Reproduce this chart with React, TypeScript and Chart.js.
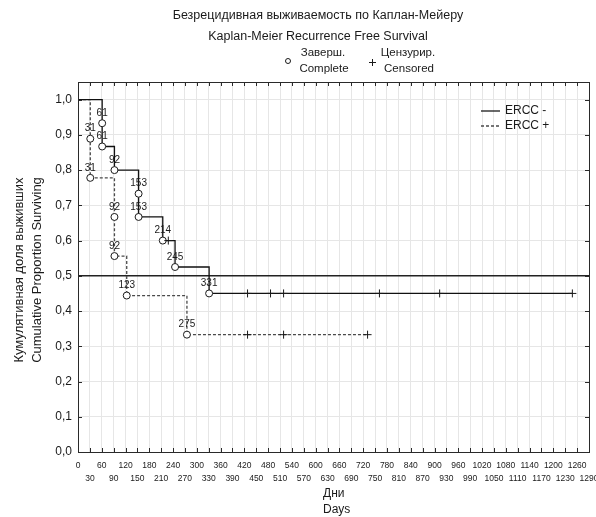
import { useEffect, useRef } from 'react';
import { Chart, registerables } from 'chart.js';

Chart.register(...registerables);

const FONT = '"Liberation Sans", Arial, sans-serif';
const TEXT = '#1a1a1a';

const title1 = 'Безрецидивная выживаемость по Каплан-Мейеру';
const title2 = 'Kaplan-Meier Recurrence Free Survival';
const legendComplete = ['Заверш.', 'Complete'];
const legendCensored = ['Цензурир.', 'Censored'];
const yTitle = ['Кумулятивная доля выживших', 'Cumulative Proportion Surviving'];
const xTitle = ['Дни', 'Days'];
const seriesNames = ['ERCC -', 'ERCC +'];

// ERCC - (solid): days, survival, marker (s = start, e = event, c = censored)
const ercMinusDays = [0, 61, 61, 92, 153, 153, 214, 228, 245, 331, 428, 486, 519, 761, 913, 1248];
const ercMinusSurv = [1, 0.933, 0.867, 0.8, 0.733, 0.667, 0.6, 0.6, 0.525, 0.45, 0.45, 0.45, 0.45, 0.45, 0.45, 0.45];
const ercMinusMark = ['s', 'e', 'e', 'e', 'e', 'e', 'e', 'c', 'e', 'e', 'c', 'c', 'c', 'c', 'c', 'c'];

// ERCC + (dashed)
const ercPlusDays = [0, 31, 31, 92, 92, 123, 275, 428, 519, 731];
const ercPlusSurv = [1, 0.889, 0.778, 0.667, 0.556, 0.444, 0.333, 0.333, 0.333, 0.333];
const ercPlusMark = ['s', 'e', 'e', 'e', 'e', 'e', 'e', 'c', 'c', 'c'];

// median reference line
const medianDays = [0, 1290];
const medianSurv = [0.5, 0.5];

const xTicks = Array.from({ length: 44 }, (_, i) => i * 30);
const yTicks = [0, 0.1, 0.2, 0.3, 0.4, 0.5, 0.6, 0.7, 0.8, 0.9, 1.0];

const marks = [ercMinusMark, ercPlusMark];
const days = [ercMinusDays, ercPlusDays];

function kmDataset(label: string, d: number[], s: number[], m: string[], color: string, dash: number[]) {
  return {
    label,
    data: d.map((x, i) => ({ x, y: s[i] })),
    stepped: true,
    borderColor: color,
    borderWidth: 1.3,
    borderDash: dash,
    fill: false,
    pointStyle: m.map((k) => (k === 'c' ? 'cross' : 'circle')),
    pointRadius: m.map((k) => (k === 's' ? 0 : k === 'c' ? 4 : 3.5)),
    pointBorderColor: '#1a1a1a',
    pointBackgroundColor: '#ffffff',
    pointBorderWidth: 1,
  };
}

const decorPlugin = {
  id: 'decor',
  afterDatasetsDraw(chart: any) {
    const ctx = chart.ctx;
    const { left, right, top, bottom } = chart.chartArea;
    const xs = chart.scales.x;
    const ys = chart.scales.y;
    ctx.save();
    // frame
    ctx.strokeStyle = '#2a2a2a';
    ctx.lineWidth = 1;
    ctx.strokeRect(Math.round(left) + 0.5, Math.round(top) + 0.5, Math.round(right - left), Math.round(bottom - top));
    // inward ticks
    ctx.beginPath();
    xTicks.forEach((v) => {
      const px = Math.round(xs.getPixelForValue(v)) + 0.5;
      ctx.moveTo(px, bottom);
      ctx.lineTo(px, bottom - 4);
      ctx.moveTo(px, top);
      ctx.lineTo(px, top + 4);
    });
    yTicks.forEach((v) => {
      const py = Math.round(ys.getPixelForValue(v)) + 0.5;
      ctx.moveTo(left, py);
      ctx.lineTo(left + 4, py);
      ctx.moveTo(right, py);
      ctx.lineTo(right - 4, py);
    });
    ctx.stroke();
    // event labels
    ctx.fillStyle = TEXT;
    ctx.font = `10px ${FONT}`;
    ctx.textAlign = 'center';
    ctx.textBaseline = 'middle';
    [0, 1].forEach((di) => {
      const meta = chart.getDatasetMeta(di);
      meta.data.forEach((pt: any, j: number) => {
        if (marks[di][j] === 'e') ctx.fillText(String(days[di][j]), pt.x, pt.y - 10);
      });
    });
    ctx.restore();
  },
  afterDraw(chart: any) {
    const ctx = chart.ctx;
    ctx.save();
    ctx.fillStyle = TEXT;
    ctx.textBaseline = 'middle';
    ctx.textAlign = 'center';
    ctx.font = `12.5px ${FONT}`;
    ctx.fillText(title1, 318, 16);
    ctx.fillText(title2, 318, 37);
    // top legend
    ctx.font = `11.5px ${FONT}`;
    ctx.fillText(legendComplete[0], 323, 53);
    ctx.fillText(legendComplete[1], 324, 69);
    ctx.fillText(legendCensored[0], 408, 53);
    ctx.fillText(legendCensored[1], 409, 69);
    ctx.strokeStyle = '#1a1a1a';
    ctx.lineWidth = 1;
    ctx.beginPath();
    ctx.arc(288, 61, 2.5, 0, Math.PI * 2);
    ctx.stroke();
    ctx.beginPath();
    ctx.moveTo(369, 62.5);
    ctx.lineTo(376, 62.5);
    ctx.moveTo(372.5, 59);
    ctx.lineTo(372.5, 66);
    ctx.stroke();
    // series legend inside plot
    ctx.textAlign = 'left';
    ctx.font = `12px ${FONT}`;
    ctx.lineWidth = 1.3;
    ctx.beginPath();
    ctx.moveTo(481, 111);
    ctx.lineTo(500, 111);
    ctx.stroke();
    ctx.setLineDash([3, 2]);
    ctx.strokeStyle = '#4a4a4a';
    ctx.beginPath();
    ctx.moveTo(481, 126);
    ctx.lineTo(500, 126);
    ctx.stroke();
    ctx.setLineDash([]);
    ctx.fillText(seriesNames[0], 505, 111);
    ctx.fillText(seriesNames[1], 505, 126);
    // x title
    ctx.fillText(xTitle[0], 323, 494);
    ctx.fillText(xTitle[1], 323, 510);
    // y title
    ctx.textAlign = 'center';
    ctx.font = `13px ${FONT}`;
    ctx.translate(0, 270);
    ctx.rotate(-Math.PI / 2);
    ctx.fillText(yTitle[0], 0, 19);
    ctx.fillText(yTitle[1], 0, 37);
    ctx.restore();
  },
};

export default function App() {
  const ref = useRef<HTMLCanvasElement>(null);
  useEffect(() => {
    if (!ref.current) return;
    const chart = new Chart(ref.current, {
      type: 'line',
      data: {
        datasets: [
          kmDataset(seriesNames[0], ercMinusDays, ercMinusSurv, ercMinusMark, '#111111', []),
          kmDataset(seriesNames[1], ercPlusDays, ercPlusSurv, ercPlusMark, '#4a4a4a', [3, 2]),
          {
            label: 'median',
            data: medianDays.map((x, i) => ({ x, y: medianSurv[i] })),
            borderColor: '#222222',
            borderWidth: 1.6,
            pointRadius: 0,
            fill: false,
          },
        ] as any,
      },
      options: {
        animation: false,
        responsive: false,
        layout: { padding: { top: 82, right: 7, left: 0, bottom: 0 } },
        plugins: { legend: { display: false }, tooltip: { enabled: false }, title: { display: false } },
        scales: {
          x: {
            type: 'linear',
            min: 0,
            max: 1290,
            afterBuildTicks: (s: any) => {
              s.ticks = xTicks.map((v) => ({ value: v }));
            },
            afterFit: (s: any) => {
              s.height = 65;
              s.paddingLeft = 0;
              s.paddingRight = 0;
            },
            grid: { color: '#e6e6e6', drawTicks: false },
            border: { display: false },
            ticks: {
              autoSkip: false,
              maxRotation: 0,
              minRotation: 0,
              padding: 7,
              color: TEXT,
              font: { family: FONT, size: 8.5, lineHeight: 1.55 },
              callback: (v: any, i: number) => (i % 2 === 0 ? [String(v), ''] : ['', String(v)]),
            },
          },
          y: {
            type: 'linear',
            min: 0,
            max: 1.05,
            afterBuildTicks: (s: any) => {
              s.ticks = yTicks.map((v) => ({ value: v }));
            },
            afterFit: (s: any) => {
              s.width = 78;
              s.paddingTop = 0;
              s.paddingBottom = 0;
            },
            grid: { color: '#e6e6e6', drawTicks: false },
            border: { display: false },
            ticks: {
              padding: 6,
              color: TEXT,
              font: { family: FONT, size: 12 },
              callback: (v: any) => Number(v).toFixed(1).replace('.', ','),
            },
          },
        },
      } as any,
      plugins: [decorPlugin],
    });
    return () => chart.destroy();
  }, []);
  return (
    <div style={{ position: 'absolute', left: 0, top: 0, width: 596, height: 517, background: '#fff' }}>
      <canvas ref={ref} width={596} height={517} style={{ display: 'block' }} />
    </div>
  );
}
